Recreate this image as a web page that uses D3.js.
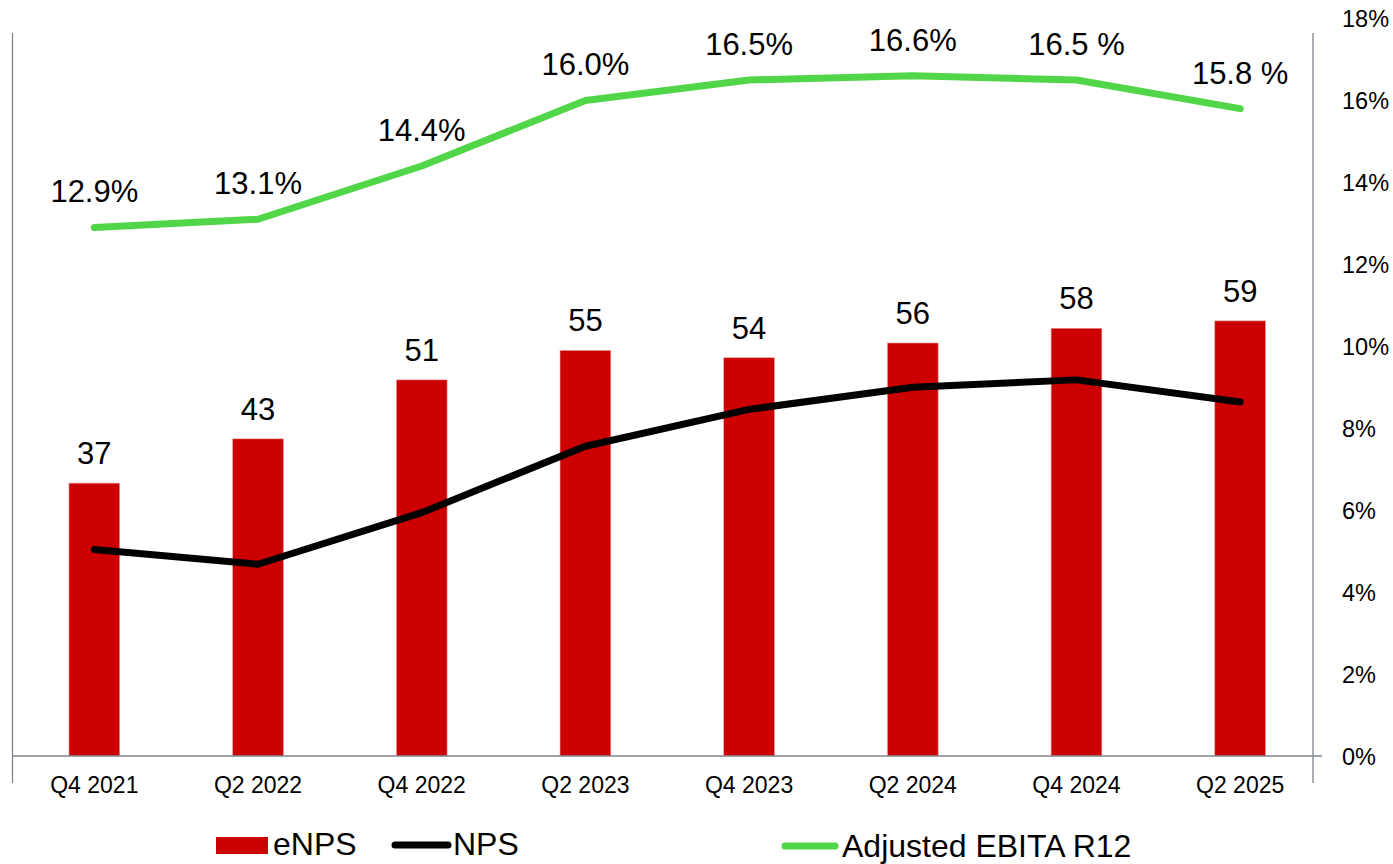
<!DOCTYPE html>
<html>
<head>
<meta charset="utf-8">
<script src="https://cdn.jsdelivr.net/npm/d3@7"></script>
<style>
  body { margin: 0; background: #fff; }
  text { font-family: Arial, "Liberation Sans", sans-serif; fill: #000; }
</style>
</head>
<body>
<div id="plot"></div>
<script>
var categories = ['Q4 2021', 'Q2 2022', 'Q4 2022', 'Q2 2023', 'Q4 2023', 'Q2 2024', 'Q4 2024', 'Q2 2025'];
var enps = [37, 43, 51, 55, 54, 56, 58, 59];
var nps = [28, 26, 33, 42, 47, 50, 51, 48];
var ebita = [12.9, 13.1, 14.4, 16.0, 16.5, 16.6, 16.5, 15.8];
var ebitaLabels = ['12.9%', '13.1%', '14.4%', '16.0%', '16.5%', '16.6%', '16.5 %', '15.8 %'];
var rightTicks = [0, 2, 4, 6, 8, 10, 12, 14, 16, 18];

var width = 1393, height = 864;
var axisColor = '#7f868f';

var svg = d3.select('#plot')
    .append('svg')
    .attr('width', width)
    .attr('height', height);

var x = d3.scaleBand()
    .domain(categories)
    .range([12.5, 1322])
    .paddingInner(0.69)
    .paddingOuter(0.345);

var yLeft = d3.scaleLinear().domain([0, 100]).range([756, 18.5]);
var yRight = d3.scaleLinear().domain([0, 18]).range([756, 18.5]);

function cx(d) { return x(d) + x.bandwidth() / 2; }

// bars
svg.selectAll('.bar')
    .data(categories)
    .enter()
    .append('rect')
    .attr('x', function (d) { return x(d); })
    .attr('y', function (d, i) { return yLeft(enps[i]); })
    .attr('width', x.bandwidth())
    .attr('height', function (d, i) { return yLeft(0) - yLeft(enps[i]); })
    .attr('fill', '#cc0000')
    .attr('stroke', '#e8a0a0')
    .attr('stroke-width', 0.6);

svg.selectAll('.barLabel')
    .data(categories)
    .enter()
    .append('text')
    .attr('x', cx)
    .attr('y', function (d, i) { return yLeft(enps[i]) - 19; })
    .attr('text-anchor', 'middle')
    .attr('font-size', 31)
    .text(function (d, i) { return enps[i]; });

// axes lines
svg.append('line')
    .attr('x1', 12.5).attr('x2', 12.5)
    .attr('y1', 33).attr('y2', 783)
    .attr('stroke', axisColor).attr('stroke-width', 1.3);
svg.append('line')
    .attr('x1', 1313).attr('x2', 1313)
    .attr('y1', 33).attr('y2', 783)
    .attr('stroke', axisColor).attr('stroke-width', 1.3);
svg.append('line')
    .attr('x1', 12.5).attr('x2', 1322)
    .attr('y1', yLeft(0)).attr('y2', yLeft(0))
    .attr('stroke', axisColor).attr('stroke-width', 1.3);

// x axis labels
var xAxis = d3.axisBottom(x).tickSize(0).tickPadding(0);
var gx = svg.append('g')
    .attr('transform', 'translate(0,' + yLeft(0) + ')')
    .call(xAxis);
gx.select('.domain').remove();
gx.selectAll('text')
    .attr('dy', null)
    .attr('y', 37)
    .attr('font-size', 23)
    .style('font-family', 'Arial, "Liberation Sans", sans-serif')
    .attr('fill', '#000');

// right axis labels
var yAxisR = d3.axisRight(yRight)
    .tickValues(rightTicks)
    .tickSize(0)
    .tickPadding(0)
    .tickFormat(function (d) { return d + '%'; });
var gr = svg.append('g')
    .attr('transform', 'translate(1342,0)')
    .call(yAxisR);
gr.select('.domain').remove();
gr.selectAll('text')
    .attr('font-size', 23.5)
    .attr('dy', '0.35em')
    .style('font-family', 'Arial, "Liberation Sans", sans-serif')
    .attr('fill', '#000');

// NPS line
var npsLine = d3.line()
    .x(function (d, i) { return cx(categories[i]); })
    .y(function (d) { return yLeft(d); });

svg.append('path')
    .attr('d', npsLine(nps))
    .attr('fill', 'none')
    .attr('stroke', '#000')
    .attr('stroke-width', 7)
    .attr('stroke-linejoin', 'round')
    .attr('stroke-linecap', 'round');

// EBITA line
var ebitaLine = d3.line()
    .x(function (d, i) { return cx(categories[i]); })
    .y(function (d) { return yRight(d); });

svg.append('path')
    .attr('d', ebitaLine(ebita))
    .attr('fill', 'none')
    .attr('stroke', '#52d649')
    .attr('stroke-width', 7)
    .attr('stroke-linejoin', 'round')
    .attr('stroke-linecap', 'round');

svg.selectAll('.ebitaLabel')
    .data(categories)
    .enter()
    .append('text')
    .attr('x', cx)
    .attr('y', function (d, i) { return yRight(ebita[i]) - 25; })
    .attr('text-anchor', 'middle')
    .attr('font-size', 31)
    .text(function (d, i) { return ebitaLabels[i]; });

// legend
var legend = svg.append('g');
legend.append('rect')
    .attr('x', 216).attr('y', 837)
    .attr('width', 52).attr('height', 17)
    .attr('fill', '#cc0000');
legend.append('text')
    .attr('x', 273).attr('y', 855)
    .attr('font-size', 32)
    .text('eNPS');
legend.append('line')
    .attr('x1', 395).attr('x2', 448)
    .attr('y1', 845).attr('y2', 845)
    .attr('stroke', '#000').attr('stroke-width', 7)
    .attr('stroke-linecap', 'round');
legend.append('text')
    .attr('x', 453).attr('y', 855)
    .attr('font-size', 32)
    .text('NPS');
legend.append('line')
    .attr('x1', 785).attr('x2', 835)
    .attr('y1', 846).attr('y2', 846)
    .attr('stroke', '#52d649').attr('stroke-width', 7)
    .attr('stroke-linecap', 'round');
legend.append('text')
    .attr('x', 842).attr('y', 857)
    .attr('font-size', 32)
    .text('Adjusted EBITA R12');
</script>
</body>
</html>
